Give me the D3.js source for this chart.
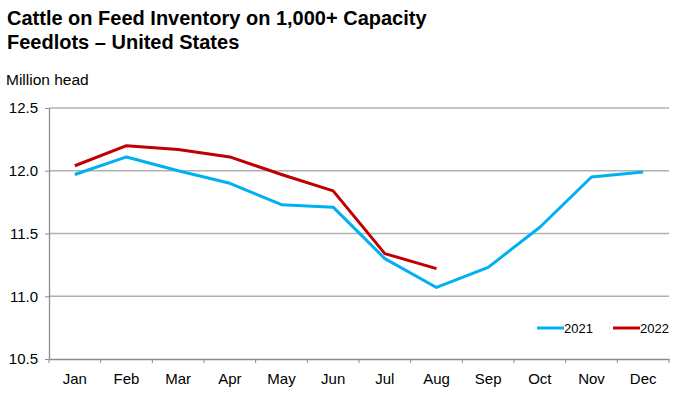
<!DOCTYPE html>
<html>
<head>
<meta charset="utf-8">
<script src="https://cdn.jsdelivr.net/npm/d3@7"></script>
<style>
  body { margin: 0; background: #fff; font-family: "Liberation Sans", Arial, sans-serif; }
</style>
</head>
<body>
<div id="chart"></div>
<script>
var months = ["Jan", "Feb", "Mar", "Apr", "May", "Jun", "Jul", "Aug", "Sep", "Oct", "Nov", "Dec"];
var values2021 = [11.97, 12.11, 12.00, 11.90, 11.73, 11.71, 11.30, 11.07, 11.23, 11.55, 11.95, 11.99];
var values2022 = [12.04, 12.20, 12.17, 12.11, 11.97, 11.84, 11.34, 11.22];
var yTicks = [10.5, 11.0, 11.5, 12.0, 12.5];

var seriesList = [
    {name: "2021", values: values2021, color: "#00b0f0"},
    {name: "2022", values: values2022, color: "#c00000"}
];

var width = 677, height = 394;
var margin = {top: 108, right: 8, bottom: 35, left: 49};

var svg = d3.select("#chart").append("svg")
    .attr("width", width)
    .attr("height", height);

var x = d3.scaleBand()
    .domain(months)
    .range([margin.left, width - margin.right]);

var y = d3.scaleLinear()
    .domain([10.5, 12.5])
    .range([height - margin.bottom, margin.top]);

// title
svg.append("text")
    .attr("x", 7).attr("y", 25)
    .style("font-size", "20px").style("font-weight", "bold")
    .text("Cattle on Feed Inventory on 1,000+ Capacity");
svg.append("text")
    .attr("x", 7).attr("y", 49)
    .style("font-size", "20px").style("font-weight", "bold")
    .text("Feedlots \u2013 United States");

svg.append("text")
    .attr("x", 6).attr("y", 85)
    .style("font-size", "15.5px")
    .text("Million head");

// gridlines
svg.append("g")
    .selectAll("line")
    .data(yTicks.slice(1))
    .enter()
    .append("line")
    .attr("x1", margin.left).attr("x2", width - margin.right)
    .attr("y1", function(d) { return y(d); })
    .attr("y2", function(d) { return y(d); })
    .attr("stroke", "#b0b0b0")
    .attr("stroke-width", 1.3);

// y axis
var yAxis = svg.append("g")
    .attr("transform", "translate(" + margin.left + ",0)")
    .call(d3.axisLeft(y).tickValues(yTicks).tickFormat(d3.format(".1f")).tickSize(4).tickSizeOuter(0));
yAxis.select(".domain").attr("stroke", "#8c8c8c").attr("stroke-width", 1.3);
yAxis.selectAll(".tick line").attr("stroke", "#8c8c8c");
yAxis.selectAll(".tick text")
    .attr("x", -11)
    .style("font-size", "15px")
    .style("font-family", "Liberation Sans, Arial, sans-serif")
    .attr("fill", "#000");

// x axis with ticks at the band boundaries
var xAxisG = svg.append("g")
    .attr("transform", "translate(0," + (height - margin.bottom) + ")")
    .call(d3.axisBottom(x).tickSize(0).tickSizeOuter(0));
xAxisG.select(".domain").attr("stroke", "#8c8c8c").attr("stroke-width", 1.3);
xAxisG.selectAll(".tick text")
    .attr("dy", "0")
    .attr("y", 25)
    .style("font-size", "15px")
    .style("font-family", "Liberation Sans, Arial, sans-serif")
    .attr("fill", "#000");

var boundaries = months.map(function(m) { return x(m); }).concat([x.range()[1]]);
xAxisG.selectAll("line.bound")
    .data(boundaries)
    .enter()
    .append("line")
    .attr("class", "bound")
    .attr("x1", function(d) { return d; })
    .attr("x2", function(d) { return d; })
    .attr("y1", 0).attr("y2", 4)
    .attr("stroke", "#8c8c8c");

// lines
var line = d3.line()
    .x(function(d, i) { return x(months[i]) + x.bandwidth() / 2; })
    .y(function(d) { return y(d); });

seriesList.forEach(function(s) {
    svg.append("path")
        .datum(s.values)
        .attr("fill", "none")
        .attr("stroke", s.color)
        .attr("stroke-width", 3)
        .attr("stroke-linejoin", "round")
        .attr("d", line);
});

// legend
var legendX = [537, 613];
seriesList.forEach(function(s, i) {
    var g = svg.append("g").attr("transform", "translate(" + legendX[i] + ",328)");
    g.append("line")
        .attr("x1", 0).attr("x2", 27)
        .attr("y1", 0).attr("y2", 0)
        .attr("stroke", s.color)
        .attr("stroke-width", 3);
    g.append("text")
        .attr("x", 27).attr("y", 5)
        .style("font-size", "13px")
        .text(s.name);
});
</script>
</body>
</html>
